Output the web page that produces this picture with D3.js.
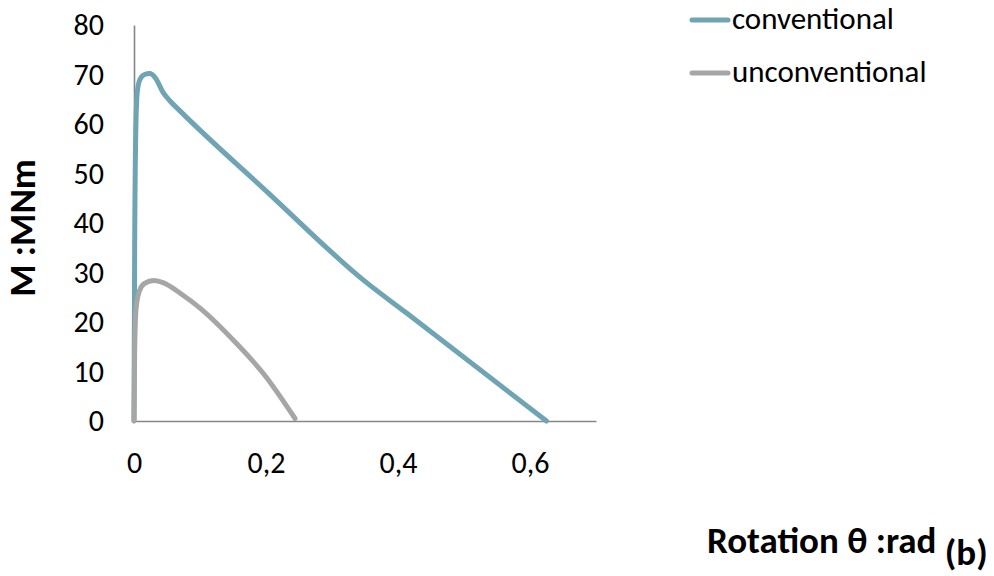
<!DOCTYPE html>
<html>
<head>
<meta charset="utf-8">
<script src="https://cdn.jsdelivr.net/npm/d3@7"></script>
<style>
  html, body { margin: 0; padding: 0; background: #fff; }
  svg { display: block; font-family: Carlito, Lato, "Open Sans", sans-serif; }
</style>
</head>
<body>
<svg id="chart" width="994" height="576"></svg>
<script>
// Moment–rotation curves
const conventionalRot = [0, 0.001, 0.003, 0.005, 0.009, 0.016, 0.024, 0.033, 0.044, 0.055, 0.07, 0.2, 0.35, 0.413, 0.625];
const conventionalM   = [0, 35, 60.5, 66.5, 69.0, 70.0, 70.2, 69.2, 66.4, 64.6, 62.6, 46.5, 28.2, 21.8, 0];

const unconventionalRot = [0, 0.001, 0.003, 0.008, 0.016, 0.03, 0.045, 0.07, 0.1, 0.155, 0.196, 0.244];
const unconventionalM   = [0, 14, 22.5, 26.2, 27.8, 28.4, 27.9, 25.8, 22.8, 15.7, 9.6, 0.5];

const yTicks = [0, 10, 20, 30, 40, 50, 60, 70, 80];
const xTicks = [0, 0.2, 0.4, 0.6];

const seriesNames = ["conventional", "unconventional"];
const seriesColors = ["#6fa4b4", "#a6a6a6"];

const svg = d3.select("#chart");

const x = d3.scaleLinear().domain([0, 0.7]).range([134, 596]);
const y = d3.scaleLinear().domain([0, 80]).range([421, 25]);

// Axes (no tick marks, only labels)
const xAxis = d3.axisBottom(x).tickValues(xTicks).tickSize(0).tickPadding(31)
  .tickFormat(d => d === 0 ? "0" : d3.format(".1f")(d).replace(".", ","));
const yAxis = d3.axisLeft(y).tickValues(yTicks).tickSize(0).tickPadding(30)
  .tickFormat(d3.format("d"));

const gx = svg.append("g").attr("transform", `translate(0,${y(0)})`).call(xAxis);
const gy = svg.append("g").attr("transform", `translate(${x(0)},0)`).call(yAxis);

[gx, gy].forEach(g => {
  g.attr("font-family", null).attr("font-size", null);
  g.select(".domain").attr("stroke", "#868686").attr("stroke-width", 1.6);
  g.selectAll("text").attr("font-size", 30).attr("fill", "#000");
});

// Series lines
const line = d3.line()
  .x(d => x(d[0]))
  .y(d => y(d[1]))
  .curve(d3.curveMonotoneX);

const series = [
  d3.zip(conventionalRot, conventionalM),
  d3.zip(unconventionalRot, unconventionalM)
];

series.forEach((pts, i) => {
  svg.append("path")
    .datum(pts)
    .attr("d", line)
    .attr("fill", "none")
    .attr("stroke", seriesColors[i])
    .attr("stroke-width", 5)
    .attr("stroke-linejoin", "round")
    .attr("stroke-linecap", "round");
});

// Legend
const legend = svg.append("g");
seriesNames.forEach((name, i) => {
  const ly = 20 + i * 53;
  legend.append("line")
    .attr("x1", 692).attr("x2", 728).attr("y1", ly).attr("y2", ly)
    .attr("stroke", seriesColors[i]).attr("stroke-width", 5)
    .attr("stroke-linecap", "round");
  legend.append("text")
    .attr("x", 732).attr("y", ly + 9)
    .attr("font-size", 31).attr("fill", "#000")
    .text(name);
});

// Axis titles
svg.append("text")
  .attr("transform", "translate(35,228) rotate(-90)")
  .attr("text-anchor", "middle")
  .attr("font-size", 37).attr("font-weight", "bold")
  .text("M :MNm");

const xt = svg.append("text")
  .attr("x", 707).attr("y", 553)
  .attr("font-size", 37).attr("font-weight", "bold");
xt.append("tspan").text("Rotation θ :rad ");
xt.append("tspan").attr("dy", 12).text("(b)");
</script>
</body>
</html>
